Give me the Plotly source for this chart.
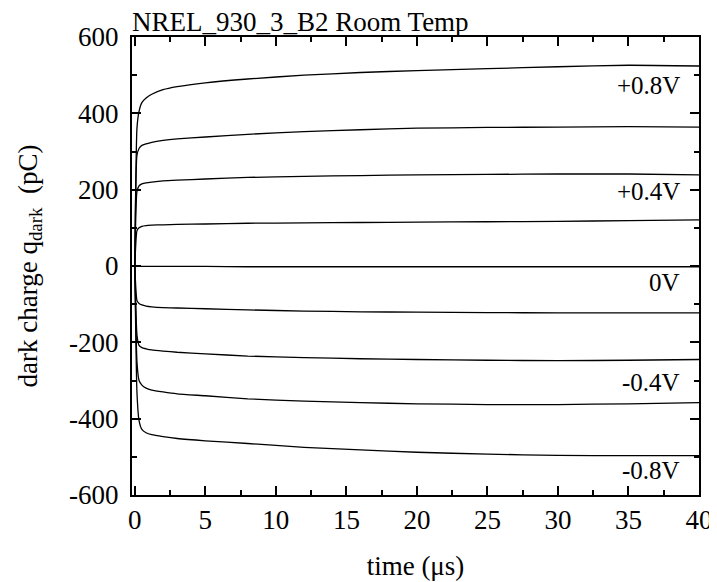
import plotly.graph_objects as go

t = [0, 0.15, 0.3, 0.5, 0.8, 1.2, 2, 3, 5, 8, 12, 16, 20, 25, 30, 35, 40]
q_p08 = [0, 360, 405, 428, 440, 450, 462, 470, 480, 490, 500, 507, 512, 517, 522, 526, 524]
q_p06 = [0, 290, 308, 316, 320, 324, 329, 333, 338, 345, 352, 357, 361, 363, 364, 365, 364]
q_p04 = [0, 195, 210, 215, 218, 220, 223, 225, 228, 232, 235, 237, 239, 240, 241, 241, 239]
q_p02 = [0, 92, 100, 104, 106, 107, 108, 109, 110, 112, 113, 114, 115, 116, 117, 119, 121]
q_0 = [0, -1, -1, -1, -1, -1, -1, -1, -1, -2, -2, -2, -2, -2, -2, -2, -2]
q_m02 = [0, -90, -98, -102, -105, -107, -109, -110, -112, -115, -118, -120, -121, -122, -123, -123, -123]
q_m04 = [0, -180, -208, -214, -217, -220, -223, -226, -230, -236, -240, -243, -245, -247, -248, -247, -245]
q_m06 = [0, -250, -300, -312, -320, -325, -330, -335, -340, -348, -354, -358, -361, -363, -363, -361, -358]
q_m08 = [0, -330, -405, -428, -437, -442, -447, -452, -458, -465, -475, -482, -488, -493, -496, -497, -497]

series = [q_p08, q_p06, q_p04, q_p02, q_0, q_m02, q_m04, q_m06, q_m08]

label_text = ["+0.8V", "+0.4V", "0V", "-0.4V", "-0.8V"]
label_y = [472, 194, -44, -304, -535]
label_x = 38.8

xticks = [0, 5, 10, 15, 20, 25, 30, 35, 40]
yticks = [-600, -400, -200, 0, 200, 400, 600]
yticktext = ["-600", "-400", "-200", "0", "200", "400", "600"]

FONT = "Liberation Serif, Times New Roman, serif"

fig = go.Figure()
for s in series:
    fig.add_trace(go.Scatter(x=t, y=s, mode="lines",
                             line=dict(color="black", width=1.3, shape="spline", smoothing=0.5),
                             showlegend=False, hoverinfo="skip"))

for txt, yv in zip(label_text, label_y):
    fig.add_annotation(x=label_x, y=yv, text=txt, showarrow=False, xanchor="right",
                       yanchor="middle", font=dict(family=FONT, size=25, color="black"))

fig.add_annotation(xref="paper", yref="paper", x=0, y=1, yanchor="bottom", xanchor="left",
                   yshift=-2, xshift=-2, text="NREL_930_3_B2 Room Temp", showarrow=False,
                   font=dict(family=FONT, size=27, color="black"))

axis_common = dict(showline=True, linecolor="black", linewidth=2, mirror="ticks",
                   ticks="inside", ticklen=9, tickwidth=1.8, tickcolor="black",
                   showgrid=False, zeroline=False,
                   tickfont=dict(family=FONT, size=27, color="black"))

fig.update_xaxes(range=[-0.2, 40], tickvals=xticks, ticklabeloverflow="allow",
                 minor=dict(ticks="inside", ticklen=5, tickwidth=1.8, tickcolor="black", dtick=2.5, tick0=0),
                 title=dict(text="time (\u03bcs)", font=dict(family=FONT, size=27, color="black"), standoff=22),
                 **axis_common)
fig.update_yaxes(range=[-600, 600], tickvals=yticks, ticktext=yticktext,
                 minor=dict(ticks="inside", ticklen=5, tickwidth=1.8, tickcolor="black", dtick=100, tick0=0),
                 title=dict(text="dark charge q<sub>dark</sub>  (pC)", font=dict(family=FONT, size=27, color="black"), standoff=24),
                 ticklabelstandoff=6,
                 **axis_common)

# page body has an 8px default margin; compensate so the plot lands where the reference has it
fig.update_layout(width=709, height=574, plot_bgcolor="white", paper_bgcolor="white",
                  margin=dict(l=124, r=18, t=29, b=87, autoexpand=False))

fig.write_html("out.html")
